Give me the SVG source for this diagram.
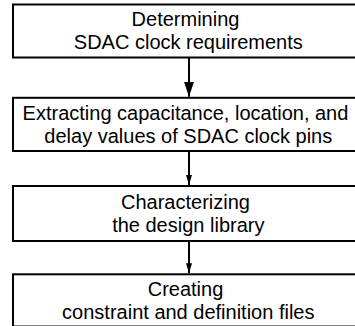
<svg xmlns="http://www.w3.org/2000/svg" width="355" height="326" viewBox="0 0 355 326">
  <style>
    .box { fill: #ffffff; stroke: #000000; stroke-width: 2; }
    .label { font-family: "Liberation Sans", Arial, sans-serif; font-size: 20px; fill: #000000; text-anchor: middle; }
    .edge { fill: none; stroke: #000000; stroke-width: 2; }
  </style>
  <defs>
    <marker id="head-lg" markerUnits="userSpaceOnUse" markerWidth="15" markerHeight="10" viewBox="0 0 15 10" refX="15" refY="5" orient="auto">
      <path d="M0,0 L15,5 L0,10 Z" fill="#000000"/>
    </marker>
    <marker id="head-sm" markerUnits="userSpaceOnUse" markerWidth="10" markerHeight="6" viewBox="0 0 10 6" refX="10" refY="3" orient="auto">
      <path d="M0,0 L10,3 L0,6 Z" fill="#000000"/>
    </marker>
  </defs>

  <rect width="355" height="326" fill="#ffffff"/>

  <!-- process steps, top to bottom -->
  <g id="step-requirements">
    <rect class="box" x="13" y="4.5" width="351" height="53"/>
    <text class="label" x="185.5" y="26">Determining</text>
    <text class="label" x="188.3" y="49">SDAC clock requirements</text>
  </g>

  <g id="step-extract">
    <rect class="box" x="13" y="97.8" width="351" height="53.2"/>
    <text class="label" x="185.5" y="119.5">Extracting capacitance, location, and</text>
    <text class="label" x="188.3" y="142.5">delay values of SDAC clock pins</text>
  </g>

  <g id="step-characterize">
    <rect class="box" x="13" y="186" width="351" height="55"/>
    <text class="label" x="185.5" y="208.5">Characterizing</text>
    <text class="label" x="188.3" y="231.5">the design library</text>
  </g>

  <g id="step-constraints">
    <rect class="box" x="13" y="274.3" width="351" height="52.2"/>
    <text class="label" x="185.5" y="296">Creating</text>
    <text class="label" x="188.3" y="318.5">constraint and definition files</text>
  </g>

  <!-- flow arrows between steps -->
  <g id="connectors">
    <line class="edge" x1="189" y1="57.5" x2="189" y2="96.8" marker-end="url(#head-lg)"/>
    <line class="edge" x1="189" y1="151" x2="189" y2="185" marker-end="url(#head-sm)"/>
    <line class="edge" x1="189" y1="241" x2="189" y2="273.3" marker-end="url(#head-sm)"/>
  </g>
</svg>
